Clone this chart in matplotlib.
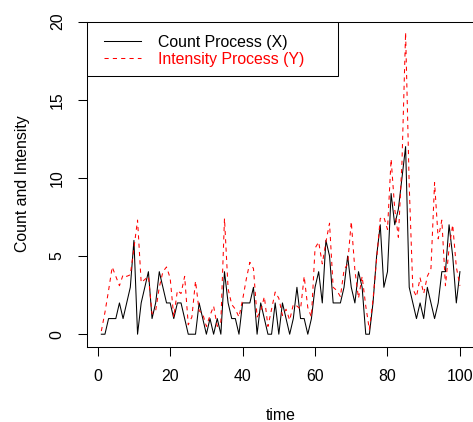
"""Count process and intensity process over time, base-R look."""

import numpy as np
from matplotlib import pyplot as plt
from matplotlib.patches import Rectangle

plt.rcParams['font.family'] = ['Liberation Sans', 'DejaVu Sans']

# data
time = np.arange(1, 101)
count_x = [
    0, 0, 1, 1, 1, 2, 1, 2, 3, 6,
    0, 2, 3, 4, 1, 2, 4, 3, 2, 2,
    1, 2, 2, 1, 0, 0, 0, 2, 1, 0,
    1, 0, 1, 0, 4, 2, 1, 1, 0, 2,
    2, 2, 3, 0, 2, 1, 0, 0, 2, 0,
    2, 1, 0, 1, 3, 1, 1, 0, 1, 3,
    4, 2, 6, 5, 2, 2, 2, 3, 5, 3,
    2, 4, 3, 0, 0, 2, 5, 7, 3, 4,
    9, 7, 8, 10, 12, 3, 2, 1, 2, 1,
    3, 2, 1, 2, 4, 4, 7, 5, 2, 4,
]
intensity_y = [
    0.2, 1.4, 2.8, 4.3, 3.7, 3.1, 3.8, 3.7, 3.8, 5.5,
    7.3, 3.3, 3.5, 3.7, 1.3, 1.5, 3.0, 4.0, 4.3, 3.6,
    1.1, 2.8, 2.6, 3.7, 0.6, 1.1, 3.4, 1.5, 1.3, 0.5,
    1.2, 1.8, 0.5, 0.8, 7.4, 2.9, 1.9, 1.6, 1.1, 2.2,
    3.5, 4.6, 4.2, 1.1, 1.5, 2.4, 0.5, 1.6, 2.7, 2.3,
    1.2, 1.6, 0.9, 1.9, 1.8, 1.6, 3.7, 1.7, 1.1, 5.5,
    5.9, 4.5, 5.9, 7.1, 3.0, 2.8, 2.4, 4.1, 4.5, 7.2,
    4.1, 2.3, 3.7, 1.8, 0.3, 2.2, 4.8, 7.4, 7.5, 6.7,
    11.2, 8.0, 6.2, 11.0, 19.3, 9.5, 2.9, 2.4, 3.6, 2.6,
    3.7, 4.2, 9.7, 6.1, 7.3, 3.1, 5.5, 7.0, 4.3, 3.1,
]
x_ticks = [0, 20, 40, 60, 80, 100]
y_ticks = [0, 5, 10, 15, 20]
series_labels = ["Count Process (X)", "Intensity Process (Y)"]

FS = 11.4

fig = plt.figure(figsize=(4.73, 4.22), dpi=100)
ax = fig.add_axes([0.1839, 0.1784, 0.8188, 0.7706])

ax.plot(time, count_x, color="black", linewidth=0.75, label=series_labels[0])
ax.plot(time, intensity_y, color="red", linewidth=0.75,
        dashes=(4, 4), label=series_labels[1])

ax.set_xlim(-2.96, 103.96)
ax.set_ylim(-0.8, 20)
ax.set_xticks(x_ticks)
ax.set_yticks(y_ticks)
ax.tick_params(length=6.5, width=0.75, pad=9.5, labelsize=FS, color="black")
ax.tick_params(axis='y', labelrotation=90)
for lab in ax.get_yticklabels():
    lab.set_va("center")
for spine in ax.spines.values():
    spine.set_linewidth(0.75)

ax.set_xlabel("time", fontsize=FS)
ax.set_ylabel("Count and Intensity", fontsize=FS)
ax.xaxis.set_label_coords(0.5, -0.187)
ax.yaxis.set_label_coords(-0.147, 0.5)

# R style legend box, flush with the top left corner of the plot region
ax.add_patch(Rectangle((0, 0.831), 0.648, 0.169, transform=ax.transAxes,
                       facecolor="white", edgecolor="black",
                       linewidth=0.75, zorder=4))
ax.legend(
    loc="upper left", bbox_to_anchor=(0.0093, 1), frameon=False,
    borderaxespad=0, fontsize=FS, handlelength=2.35, handletextpad=1.05,
    borderpad=0.85, labelspacing=0.12, labelcolor=["black", "red"])

fig.savefig("out.png", dpi=100)
plt.close(fig)
